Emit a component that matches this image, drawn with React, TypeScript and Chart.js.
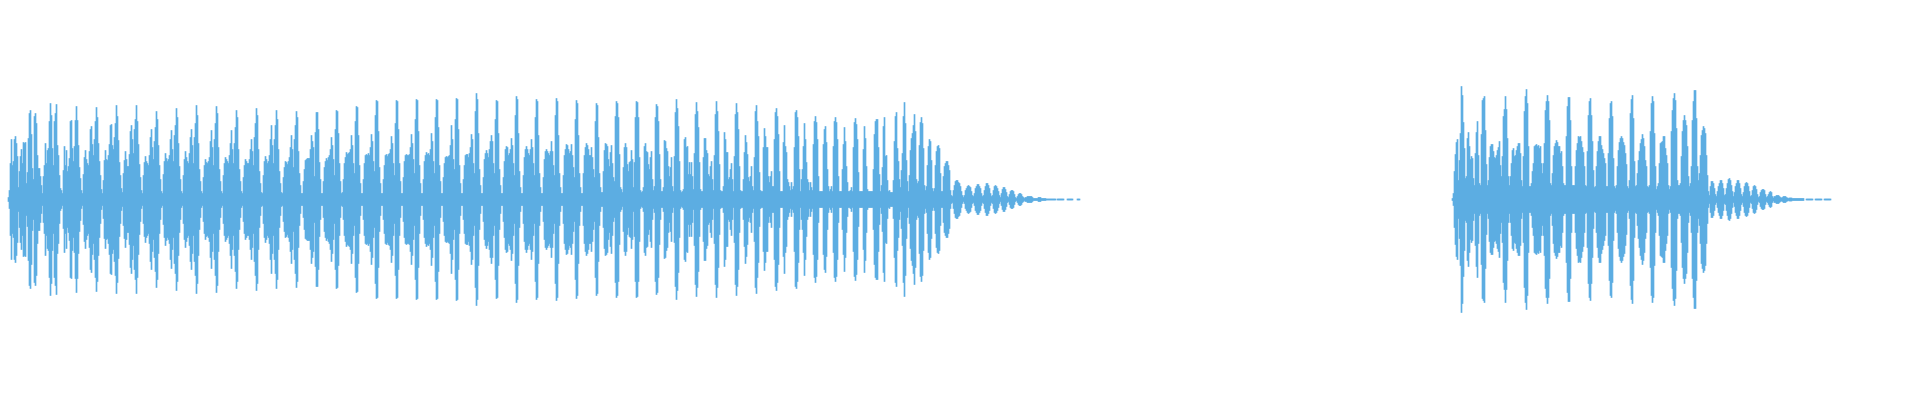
import React, { useEffect, useRef } from "react";
import { Chart, registerables } from "chart.js";

Chart.register(...registerables);

const SILENCE_BEFORE_CLIP_ONE = 8;
const SILENCE_BEFORE_CLIP_TWO = 1452;
const TOTAL_COLUMNS = 1920;
const WAVE_COLOR = "#5DADE2";

const clipOneAmplitude: (number | null)[] = [
  2,9,36,60,34,38,60,63,56,43,12,28,43,50,36,57,56,57,16,27,61,86,89,65,31,20,83,86,76,44,31,31,23,14,
  6,23,34,56,36,49,51,78,96,84,51,34,78,86,95,54,44,24,11,9,
  6,29,53,34,49,28,33,41,78,79,51,38,53,79,93,79,54,32,21,9,
  6,25,42,49,40,36,34,48,70,73,55,44,60,78,92,82,56,38,24,10,
  6,19,39,49,40,39,44,55,74,75,54,50,62,76,94,83,59,37,24,11,
  7,26,39,48,40,33,33,45,68,74,60,46,70,80,94,78,55,35,22,9,
  6,24,37,43,38,36,34,44,62,70,52,40,58,72,88,80,54,34,20,8,
  6,25,38,46,41,38,40,44,60,69,50,38,64,74,91,82,56,33,20,8,
  6,24,40,48,42,38,36,46,62,70,54,36,62,76,94,84,56,30,18,8,
  6,22,34,40,37,36,38,42,58,69,52,34,60,76,93,86,52,30,18,8,
  6,24,36,42,40,38,36,44,56,69,50,36,56,72,89,82,50,30,18,8,
  6,22,34,40,38,36,36,40,50,60,48,34,62,76,91,84,50,28,16,7,
  6,24,38,43,40,36,38,44,60,74,54,36,60,74,89,80,50,28,16,7,
  6,22,32,38,37,35,38,42,52,64,50,32,60,74,88,82,48,26,14,6,
  6,18,30,39,40,41,41,41,50,64,58,52,23,67,87,87,70,37,20,6,
  6,18,32,38,41,39,42,44,50,62,54,40,24,70,89,88,66,36,18,6,
  7,20,36,42,47,45,46,47,50,64,54,36,26,78,93,92,64,34,16,6,
  6,20,36,44,45,44,46,44,52,65,58,38,28,84,99,98,68,32,16,6,
  6,20,34,44,45,43,45,46,50,63,56,36,24,76,99,98,70,36,18,6,
  6,22,38,44,45,44,44,45,52,65,56,40,26,80,100,99,68,34,16,6,
  6,20,38,44,47,45,46,44,50,66,58,38,26,82,100,99,72,34,18,6,
  6,22,36,42,43,42,43,44,54,74,60,40,30,80,101,100,70,34,16,6,
  6,20,34,44,45,45,42,46,52,65,60,36,26,88,106,100,66,30,14,6,
  6,22,40,46,49,46,42,50,58,64,58,36,26,80,99,98,66,30,14,6,
  6,22,38,50,53,52,44,46,50,61,54,36,24,84,103,100,66,28,12,6,
  6,24,42,50,53,50,46,44,50,60,52,36,24,82,100,98,64,26,12,6,
  6,22,40,48,50,48,46,44,48,58,48,34,24,84,101,98,64,26,12,6,
  6,24,44,50,55,54,50,46,48,55,44,32,22,80,99,96,64,26,12,6,
  6,26,44,52,56,54,50,44,44,52,42,30,22,78,96,94,62,26,12,7,
  7,28,49,56,55,53,40,33,47,54,36,22,18,83,98,96,82,45,12,10,
  7,32,52,56,52,35,28,37,38,49,40,12,37,82,98,97,82,42,9,7,
  8,12,53,56,48,47,35,30,42,48,20,9,13,82,95,93,78,45,20,8,
  8,12,59,58,51,48,33,23,32,42,13,8,43,87,100,91,73,38,9,7,
  8,10,60,62,52,53,25,37,25,37,23,10,46,85,97,88,72,37,10,8,
  8,42,61,61,49,46,25,23,33,38,20,9,44,85,98,88,68,35,9,8,
  8,13,67,60,47,47,20,22,30,36,20,8,43,85,96,87,70,33,9,8,
  8,20,47,64,57,45,22,18,23,33,13,9,42,88,94,78,63,27,9,8,
  8,52,71,63,52,52,23,17,23,28,13,13,60,87,91,83,65,28,8,8,
  8,57,74,53,47,20,17,13,9,17,10,13,52,87,89,82,63,30,8,20,
  30,53,76,60,37,20,17,9,17,12,9,55,78,83,77,60,23,8,8,8,
  8,55,70,73,57,30,13,8,10,13,8,53,78,82,77,60,23,8,8,8,
  30,55,72,58,33,17,8,8,9,12,8,52,77,81,75,60,27,8,8,8,
  8,50,73,61,33,10,8,8,8,8,8,30,65,78,80,80,52,25,8,
  14,32,73,82,43,44,19,8,9,7,7,7,19,58,83,87,51,38,20,12,29,46,83,97,76,39,18,8,24,49,61,66,74,85,68,20,16,18,54,77,82,76,51,14,9,13,34,53,60,58,39,11,8,11,34,48,53,54,51,26,8,8,23,33,36,38,38,34,29,9,4,3,9,14,18,19,19,17,16,13,8,4,2,4,9,11,13,14,13,12,8,4,3,6,11,13,15,15,13,11,6,3,4,9,13,16,16,14,11,6,3,4,9,13,14,13,11,8,4,2,6,10,12,12,10,7,3,2,5,8,9,9,8,5,2,1,3,5,6,6,5,3,2,1,2,2,3,3,3,3,3,2,1,1,1,1,1,2,2,2,1,1,1,1,1,
  0.5,0.5,0.5,0.5,0.5,0.5,0.5,0.5,0.5,0.5,null,0.5,0.5,0.5,0.5,0.5,0.5,0.5,null,null,null,0.5,0.5,0.5,0.5,0.5,0.5,null,null,null,null,0.5,0.5,0.5,
];

const clipTwoAmplitude: (number | null)[] = [
  1,6,28,45,57,60,19,39,66,113,104,77,51,21,23,61,67,53,40,43,41,21,14,46,67,78,44,16,14,65,99,101,103,69,35,14,
  19,42,53,55,55,48,42,41,44,49,52,58,34,23,43,83,90,103,90,61,23,14,
  23,36,49,51,43,44,49,53,56,56,46,19,13,43,88,103,110,96,53,13,
  13,16,28,36,53,54,55,53,54,51,53,36,26,36,56,89,98,104,98,79,16,
  14,26,44,53,56,59,57,53,53,46,48,33,16,14,14,63,93,102,102,79,33,14,
  14,14,33,49,56,63,62,63,58,52,47,33,14,13,48,84,98,101,84,58,29,12,
  13,33,48,58,63,63,54,50,46,41,36,13,13,46,81,96,98,83,41,13,11,
  14,33,49,57,61,63,61,57,54,46,35,13,11,19,86,100,104,81,38,13,
  14,26,39,48,56,60,65,61,53,39,33,13,12,14,68,96,103,98,66,33,10,
  13,16,36,56,57,58,63,63,51,44,36,14,10,13,68,89,101,106,99,71,19,14,14,16,43,68,79,84,79,74,53,23,13,16,33,79,98,109,109,81,33,19,26,44,64,69,73,71,66,44,24,8,
  4,13,18,18,16,11,5,3,8,13,16,19,19,16,11,4,5,11,16,20,21,19,14,8,3,7,13,16,19,19,16,11,5,3,7,13,16,17,16,13,8,3,4,9,13,14,13,10,5,2,3,7,9,10,10,9,5,2,3,5,7,8,7,3,1.5,3,3,4,4,4,3,2,1.5,2,3,3,3,2,1.5,1,1.5,1.5,1.5,1,1,1,1,
  1,1,1,1,1,1,1,1,null,null,
  0.5,0.5,0.5,0.5,0.5,0.5,0.5,null,null,0.5,0.5,0.5,0.5,0.5,0.5,0.5,null,null,0.5,0.5,0.5,0.5,0.5,0.5,0.5,
];

const columnLabels = Array.from({ length: TOTAL_COLUMNS }, (_, i) => String(i));

function buildBars(): ([number, number] | null)[] {
  const bars: ([number, number] | null)[] = new Array(TOTAL_COLUMNS).fill(null);
  const place = (start: number, amps: (number | null)[]) => {
    amps.forEach((a, i) => {
      if (a !== null) bars[start + i] = [-a, a];
    });
  };
  place(SILENCE_BEFORE_CLIP_ONE, clipOneAmplitude);
  place(SILENCE_BEFORE_CLIP_TWO, clipTwoAmplitude);
  return bars;
}

export default function App() {
  const ref = useRef<HTMLCanvasElement | null>(null);
  useEffect(() => {
    if (!ref.current) return;
    const chart = new Chart(ref.current, {
      type: "bar",
      data: {
        labels: columnLabels,
        datasets: [
          {
            data: buildBars() as any,
            backgroundColor: WAVE_COLOR,
            borderWidth: 0,
            barPercentage: 1,
            categoryPercentage: 1,
          },
        ],
      },
      options: {
        responsive: false,
        animation: false,
        devicePixelRatio: 1,
        layout: { padding: 0 },
        plugins: { legend: { display: false }, tooltip: { enabled: false } },
        scales: {
          x: { display: false, grid: { display: false } },
          y: { display: false, min: -200.5, max: 199.5, grid: { display: false } },
        },
      },
    });
    return () => chart.destroy();
  }, []);
  return (
    <div style={{ position: "fixed", left: 0, top: 0, width: 1920, height: 400, background: "#fff" }}>
      <canvas ref={ref} width={1920} height={400} style={{ display: "block" }} />
    </div>
  );
}
